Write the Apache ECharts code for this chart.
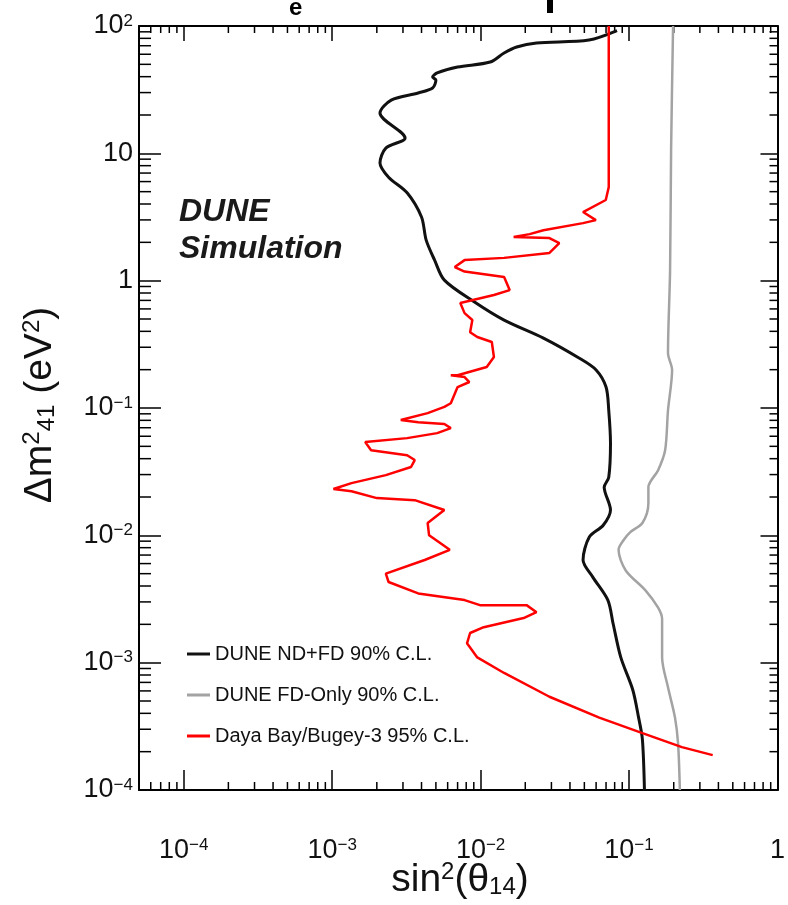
<!DOCTYPE html>
<html>
<head>
<meta charset="utf-8">
<script src="https://cdn.jsdelivr.net/npm/echarts@6/dist/echarts.min.js"></script>
<style>
  html, body { margin: 0; padding: 0; background: #fff; }
  #chart { width: 788px; height: 905px; }
</style>
</head>
<body>
<div id="chart"></div>
<script>
// sin^2(theta14) / dm^2_41 (eV^2) pairs
const ndfdX = [0.083, 0.0537, 0.0238, 0.0175, 0.0144, 0.0116, 0.0070, 0.0051, 0.00475, 0.0050,
    0.00475, 0.0038, 0.0025, 0.0021, 0.0031, 0.0023, 0.0021, 0.0024, 0.0032, 0.0040,
    0.0043, 0.0049, 0.0057, 0.0091, 0.0144, 0.0265, 0.046, 0.060, 0.070, 0.073,
    0.075, 0.073, 0.068, 0.075, 0.067, 0.054, 0.049, 0.057, 0.072, 0.078,
    0.088, 0.106, 0.116, 0.123, 0.127]
const ndfdY = [92, 77.6, 73.5, 68.4, 61.4, 52.1, 47.6, 42.8, 39.7, 37.7,
    32.6, 29.8, 26.2, 20.7, 13.2, 11.0, 8.4, 6.5, 4.9, 3.16,
    2.08, 1.45, 1.01, 0.68, 0.49, 0.354, 0.247, 0.199, 0.146, 0.096,
    0.053, 0.0286, 0.0239, 0.0158, 0.012, 0.0097, 0.0064, 0.0047, 0.0031, 0.00204,
    0.0011, 0.00061, 0.00037, 0.00025, 0.0001]

const fdOnlyX = [0.198, 0.192, 0.189, 0.183, 0.195, 0.183, 0.175, 0.157, 0.135, 0.135,
    0.123, 0.102, 0.092, 0.085, 0.095, 0.129, 0.157, 0.167, 0.167, 0.183,
    0.204, 0.214, 0.22]
const fdOnlyY = [100, 10.6, 1.21, 0.27, 0.199, 0.096, 0.0466, 0.0325, 0.0239, 0.0179,
    0.0125, 0.0106, 0.0092, 0.0077, 0.0053, 0.0037, 0.0027, 0.0022, 0.0011, 0.00064,
    0.00037, 0.00023, 0.0001]

const dayaBayX = [0.073, 0.073, 0.0697, 0.049, 0.0598, 0.049, 0.0265, 0.0214, 0.0167, 0.0291,
    0.0339, 0.0291, 0.0144, 0.0078, 0.0067, 0.0078, 0.0144, 0.0157, 0.0123, 0.0073,
    0.0078, 0.0088, 0.0085, 0.0095, 0.0119, 0.0123, 0.011, 0.0070, 0.0063, 0.0078,
    0.0084, 0.0070, 0.0063, 0.0057, 0.0044, 0.0029, 0.0038, 0.0057, 0.0063, 0.0051,
    0.0032, 0.00167, 0.00183, 0.0032, 0.0036, 0.0034, 0.0023, 0.00135, 0.00102, 0.00135,
    0.0020, 0.0036, 0.0057, 0.0044, 0.0045, 0.0062, 0.0042, 0.0023, 0.0024, 0.0038,
    0.0078, 0.0099, 0.0204, 0.0238, 0.0195, 0.0105, 0.0085, 0.0081, 0.0095, 0.0144,
    0.0291, 0.063, 0.123, 0.227, 0.366]
const dayaBayY = [100, 5.43, 4.3, 3.46, 2.99, 2.83, 2.49, 2.32, 2.2, 2.16,
    1.97, 1.65, 1.51, 1.45, 1.28, 1.18, 1.07, 0.843, 0.771, 0.667,
    0.556, 0.491, 0.394, 0.361, 0.33, 0.251, 0.21, 0.181, 0.181, 0.175,
    0.16, 0.146, 0.109, 0.102, 0.0912, 0.0804, 0.0774, 0.0748, 0.0695, 0.0635,
    0.058, 0.054, 0.0466, 0.0426, 0.039, 0.0344, 0.0297, 0.0257, 0.0231, 0.0222,
    0.0196, 0.0189, 0.0158, 0.0125, 0.010, 0.0077, 0.0064, 0.0050, 0.0043, 0.0035,
    0.0031, 0.00283, 0.00283, 0.00249, 0.00224, 0.0019, 0.00171, 0.00142, 0.0011, 0.00083,
    0.00054, 0.00037, 0.00028, 0.000217, 0.000188]

const seriesNames = ["DUNE ND+FD 90% C.L.", "DUNE FD-Only 90% C.L.", "Daya Bay/Bugey-3 95% C.L."]

const xRange = [5e-5, 1]
const yRange = [1e-4, 100]

function zip(xs, ys) {
    return xs.map((x, i) => [x, ys[i]])
}

// minor tick positions: 2..9 x 10^k inside the range
function minorTicks(lo, hi) {
    let out = []
    for (let e = Math.floor(Math.log10(lo)); e <= Math.ceil(Math.log10(hi)); e++) {
        for (let m = 2; m <= 9; m++) {
            let v = m * Math.pow(10, e)
            if (v > lo * 1.0001 && v < hi * 0.9999) out.push(v)
        }
    }
    return out
}

function powLabel(v) {
    let lg = Math.log10(v)
    let e = Math.round(lg)
    if (Math.abs(lg - e) > 1e-6) return ""
    if (e === 0) return "{b|1}"
    if (e === 1) return "{b|10}"
    return "{b|10}{sup|" + (e < 0 ? "\u2212" : "") + Math.abs(e) + "}"
}

const font = "'Liberation Sans', Arial, Helvetica, sans-serif"
const labelRich = {
    b: { fontSize: 27, fontFamily: font, color: "#111", verticalAlign: "bottom" },
    sup: { fontSize: 17, fontFamily: font, color: "#111", verticalAlign: "top" },
}
const titleRich = {
    b: { fontSize: 39, fontFamily: font, fill: "#111", verticalAlign: "middle" },
    sup: { fontSize: 24, fontFamily: font, fill: "#111", verticalAlign: "top" },
    sub: { fontSize: 24, fontFamily: font, fill: "#111", verticalAlign: "bottom" },
}

const myChart = echarts.init(document.getElementById("chart"), null, { renderer: "canvas" })

myChart.setOption({
    animation: false,
    backgroundColor: "#fff",
    grid: { left: 139, right: 6, top: 26, bottom: 115, containLabel: false },
    legend: {
        data: seriesNames,
        orient: "vertical",
        left: 182,
        top: 639,
        icon: "rect",
        itemWidth: 23,
        itemHeight: 3,
        itemGap: 21,
        textStyle: { fontSize: 20, fontFamily: font, color: "#111" },
    },
    xAxis: [
        {
            type: "log",
            logBase: 10,
            min: xRange[0],
            max: xRange[1],
            position: "bottom",
            axisLine: { lineStyle: { color: "#000", width: 2 } },
            axisTick: { inside: true, length: 20, lineStyle: { color: "#000", width: 1.5 } },
            axisLabel: { margin: 47, formatter: powLabel, rich: labelRich, showMinLabel: false },
            splitLine: { show: false },
        },
        {
            type: "log",
            logBase: 10,
            min: xRange[0],
            max: xRange[1],
            position: "top",
            axisLine: { lineStyle: { color: "#000", width: 2 } },
            axisTick: { inside: true, length: 15, lineStyle: { color: "#000", width: 1.5 } },
            axisLabel: { show: false },
            splitLine: { show: false },
        },
    ],
    yAxis: [
        {
            type: "log",
            logBase: 10,
            min: yRange[0],
            max: yRange[1],
            position: "left",
            axisLine: { lineStyle: { color: "#000", width: 2 } },
            axisTick: { inside: true, length: 22, lineStyle: { color: "#000", width: 1.5 } },
            axisLabel: { margin: 6, formatter: powLabel, rich: labelRich },
            splitLine: { show: false },
        },
        {
            type: "log",
            logBase: 10,
            min: yRange[0],
            max: yRange[1],
            position: "right",
            axisLine: { lineStyle: { color: "#000", width: 2 } },
            axisTick: { inside: true, length: 17, lineStyle: { color: "#000", width: 1.5 } },
            axisLabel: { show: false },
            splitLine: { show: false },
        },
    ],
    graphic: [
        // cut-off title remains at the very top
        {
            type: "text",
            left: 289,
            top: -4,
            style: { text: "e", fontSize: 24, fontWeight: "bold", fontFamily: font, fill: "#000" },
        },
        {
            type: "rect",
            shape: { x: 547, y: 0, width: 6, height: 13 },
            style: { fill: "#000" },
        },
        {
            type: "text",
            left: 179,
            top: 194,
            style: {
                text: "DUNE\nSimulation",
                fontSize: 32,
                lineHeight: 37,
                fontStyle: "italic",
                fontWeight: "bold",
                fontFamily: font,
                fill: "#1a1a1a",
            },
        },
        {
            type: "text",
            x: 460,
            y: 880,
            style: {
                text: "{b|sin}{sup|2}{b|(\u03b8}{sub|14}{b|)}",
                align: "center",
                verticalAlign: "middle",
                rich: titleRich,
            },
        },
        {
            type: "text",
            x: 40,
            y: 405,
            rotation: Math.PI / 2,
            style: {
                text: "{b|\u0394m}{sup|2}{sub|41}{b| (eV}{sup|2}{b|)}",
                align: "center",
                verticalAlign: "middle",
                rich: titleRich,
            },
        },
    ],
    series: [
        {
            name: seriesNames[0],
            type: "line",
            data: zip(ndfdX, ndfdY),
            symbol: "none",
            smooth: 0.3,
            lineStyle: { color: "#111", width: 3 },
            itemStyle: { color: "#111" },
            z: 5,
        },
        {
            name: seriesNames[1],
            type: "line",
            data: zip(fdOnlyX, fdOnlyY),
            symbol: "none",
            smooth: 0.3,
            lineStyle: { color: "#a3a3a3", width: 2.5 },
            itemStyle: { color: "#a3a3a3" },
            z: 4,
        },
        {
            name: seriesNames[2],
            type: "line",
            data: zip(dayaBayX, dayaBayY),
            symbol: "none",
            lineStyle: { color: "#ff0000", width: 2.5 },
            itemStyle: { color: "#ff0000" },
            z: 6,
        },
        {
            // minor ticks on bottom and top axes
            type: "custom",
            silent: true,
            clip: false,
            data: minorTicks(xRange[0], xRange[1]).map((v) => [v, 1]),
            renderItem: function (params, api) {
                let p = api.coord([api.value(0), api.value(1)])
                let cs = params.coordSys
                let st = { stroke: "#000", lineWidth: 1.5 }
                return {
                    type: "group",
                    children: [
                        { type: "line", shape: { x1: p[0], y1: cs.y + cs.height, x2: p[0], y2: cs.y + cs.height - 8 }, style: st },
                        { type: "line", shape: { x1: p[0], y1: cs.y, x2: p[0], y2: cs.y + 7 }, style: st },
                    ],
                }
            },
        },
        {
            // minor ticks on left and right axes
            type: "custom",
            silent: true,
            clip: false,
            data: minorTicks(yRange[0], yRange[1]).map((v) => [0.01, v]),
            renderItem: function (params, api) {
                let p = api.coord([api.value(0), api.value(1)])
                let cs = params.coordSys
                let st = { stroke: "#000", lineWidth: 1.5 }
                return {
                    type: "group",
                    children: [
                        { type: "line", shape: { x1: cs.x, y1: p[1], x2: cs.x + 12, y2: p[1] }, style: st },
                        { type: "line", shape: { x1: cs.x + cs.width, y1: p[1], x2: cs.x + cs.width - 8, y2: p[1] }, style: st },
                    ],
                }
            },
        },
    ],
})

window.addEventListener("resize", function () {
    myChart.resize()
})
</script>
</body>
</html>
